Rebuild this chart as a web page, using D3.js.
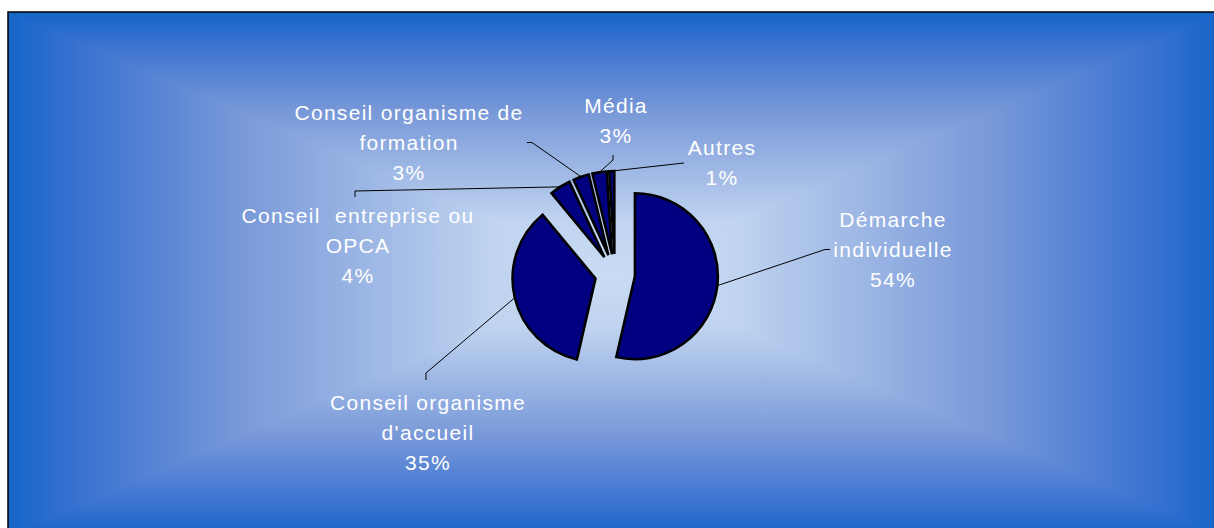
<!DOCTYPE html>
<html>
<head>
<meta charset="utf-8">
<script src="https://cdn.jsdelivr.net/npm/d3@7"></script>
<style>
  body { margin: 0; background: #fff; }
  svg { display: block; }
  .lbl { font-family: "Liberation Sans", Arial, sans-serif; font-size: 21px; fill: #fff; letter-spacing: 1.3px; }
</style>
</head>
<body>
<svg id="chart"></svg>
<script>
// Data (share of answers, in %)
var categories = ["Démarche\nindividuelle", "Conseil organisme\nd'accueil", "Conseil  entreprise ou\nOPCA",
                  "Conseil organisme de\nformation", "Média", "Autres"];
var values = [53.6, 35.4, 4.1, 3.1, 2.8, 1.0];

// Hand placed label anchors (centre x, first baseline) and leader elbows, as in the original
var labelPos = [[893, 227], [428, 410], [358, 223], [409, 120], [616, 113], [722, 155]];
var leaderPts = [
  [[825, 249.5], [830, 249.5]],
  [[426, 373], [426, 380]],
  [[355, 191], [355, 197]],
  [[532, 142.5], [527, 142.5]],
  [[613, 160], [613, 155]],
  [[684, 163]]
];

var width = 1214,
    height = 528,
    box = { x: 8, y: 12, w: 1214, h: 524 },
    cx = box.x + box.w / 2,
    cy = box.y + box.h / 2,
    radius = 83,
    explode = 20,
    lineH = 30;

var svg = d3.select("#chart")
  .attr("width", width)
  .attr("height", height);

// Background: rectangular gradient from the centre.
// Vertical gradient over the whole box, then left/right triangles with a horizontal one
var defs = svg.append("defs");
var stops = [[0, "#1464c8"], [0.12, "#3a72d0"], [0.38, "#7898d8"], [0.8, "#c0d4f0"], [1, "#c8dcf4"]];
var x0 = box.x, y0 = box.y, x1 = box.x + box.w, y1 = box.y + box.h;

function grad(id, g, spread) {
  var lg = defs.append("linearGradient")
    .attr("id", id)
    .attr("gradientUnits", "userSpaceOnUse")
    .attr("x1", g[0]).attr("y1", g[1])
    .attr("x2", g[2]).attr("y2", g[3])
    .attr("spreadMethod", spread || "pad");
  stops.forEach(function(s) {
    lg.append("stop").attr("offset", s[0]).attr("stop-color", s[1]);
  });
}
grad("gV", [cx, y0, cx, cy], "reflect");
grad("gH", [x0, cy, cx, cy], "reflect");

svg.append("rect")
  .attr("x", x0).attr("y", y0)
  .attr("width", box.w).attr("height", box.h)
  .attr("fill", "url(#gV)");

[[[x0, y0], [x0, y1], [cx, cy]], [[x1, y0], [x1, y1], [cx, cy]]].forEach(function(pts) {
  svg.append("polygon")
    .attr("points", pts.map(function(p) { return p.join(","); }).join(" "))
    .attr("fill", "url(#gH)");
});

svg.append("rect")
  .attr("x", box.x).attr("y", box.y)
  .attr("width", box.w).attr("height", box.h)
  .attr("fill", "none")
  .attr("stroke", "#000")
  .attr("stroke-width", 1.5);

// Pie, every slice pulled out along its bisector
var pie = d3.pie().sort(null).value(function(d) { return d; });
var arcs = pie(values);
var arc = d3.arc().innerRadius(0).outerRadius(radius);

function offset(d, r) {
  var a = (d.startAngle + d.endAngle) / 2;
  return [Math.sin(a) * r, -Math.cos(a) * r];
}

var g = svg.append("g").attr("transform", "translate(" + cx + "," + cy + ")");

// Leader lines
var line = d3.line();
arcs.forEach(function(d, i) {
  var o = offset(d, explode), e = offset(d, radius);
  var pts = [[cx + o[0] + e[0], cy + o[1] + e[1]]].concat(leaderPts[i]);
  svg.append("path")
    .attr("d", line(pts))
    .attr("fill", "none")
    .attr("stroke", "#000")
    .attr("stroke-width", 1);
});

g.selectAll(".slice")
  .data(arcs)
  .enter().append("path")
  .attr("class", "slice")
  .attr("transform", function(d) { return "translate(" + offset(d, explode) + ")"; })
  .attr("d", arc)
  .attr("fill", "#000080")
  .attr("stroke", "#000")
  .attr("stroke-width", 2.5)
  .attr("stroke-linejoin", "miter");

// Labels
arcs.forEach(function(d, i) {
  var lines = categories[i].split("\n").concat([Math.round(values[i]) + "%"]);
  var t = svg.append("text")
    .attr("class", "lbl")
    .attr("text-anchor", "middle");
  lines.forEach(function(s, k) {
    t.append("tspan")
      .attr("x", labelPos[i][0])
      .attr("y", labelPos[i][1] + k * lineH)
      .style("white-space", "pre")
      .text(s);
  });
});
</script>
</body>
</html>
